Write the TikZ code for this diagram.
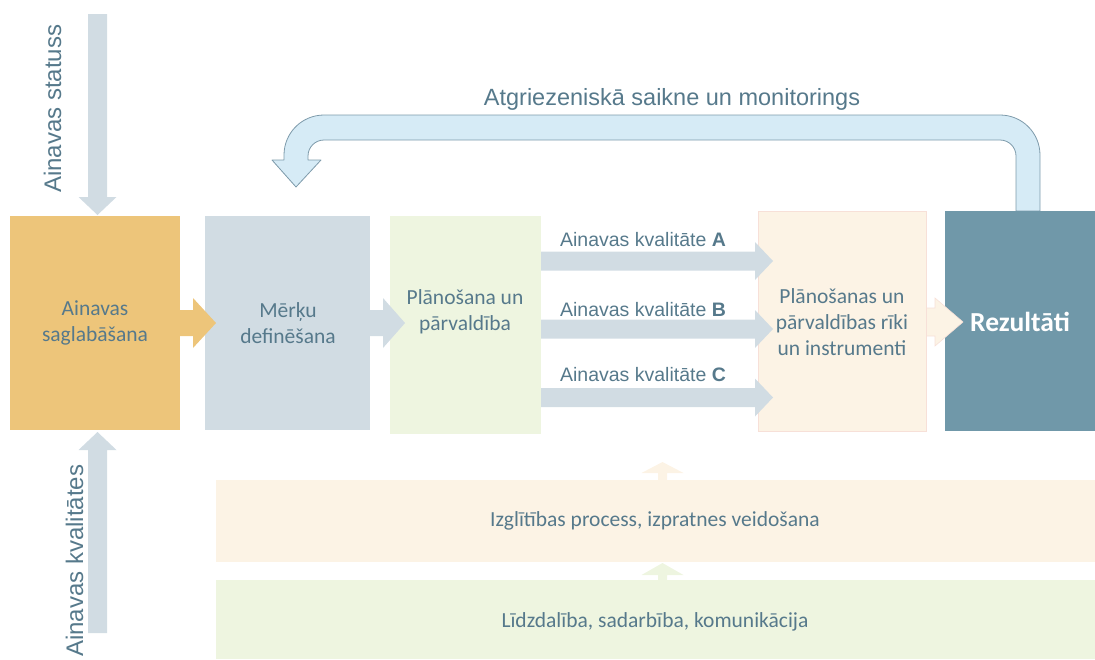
\documentclass[tikz,border=0pt]{standalone}
\usepackage{fontspec}
\setmainfont{Carlito}
\newfontfamily\arialf{Liberation Sans}
\usetikzlibrary{calc}
\definecolor{orangeB}{HTML}{EDC57A}
\definecolor{grayB}{HTML}{D1DCE3}
\definecolor{greenB}{HTML}{EEF5E0}
\definecolor{creamB}{HTML}{FCF3E5}
\definecolor{creamL}{HTML}{F7E0D8}
\definecolor{tealB}{HTML}{7098A9}
\definecolor{txt}{HTML}{56798B}
\definecolor{fbfill}{HTML}{D6EBF6}
\definecolor{fbline}{HTML}{7E9BAB}
\newcommand\blockR[7]{%
 \path[#1] (#2,{#5-#6}) -- (#3,{#5-#6}) -- (#3,{#5-#7}) -- (#4,#5) -- (#3,{#5+#7}) -- (#3,{#5+#6}) -- (#2,{#5+#6}) -- cycle;}
\newcommand\blockV[7]{%
 \path[#1] ({#2-#3},#5) -- ({#2-#3},#6) -- ({#2-#4},#6) -- (#2,#7) -- ({#2+#4},#6) -- ({#2+#3},#6) -- ({#2+#3},#5) -- cycle;}
\begin{document}
\begin{tikzpicture}[x=1pt,y=-1pt,
  box/.style={anchor=north west, inner sep=0pt, outer sep=0pt},
  lbl/.style={text=txt, align=center, inner sep=0pt, font=\fontsize{21.5}{26}\selectfont},
  qlbl/.style={text=txt, anchor=base, inner sep=0pt, font=\arialf\fontsize{19.5}{24}\selectfont},
  vlbl/.style={text=txt, anchor=base west, rotate=90, inner sep=0pt, font=\arialf\fontsize{24}{28}\selectfont},
  grayarrow/.style={fill=grayB},
  orangearrow/.style={fill=orangeB},
  creamarrow/.style={fill=creamB, draw=creamL, line width=0.6pt},
  fbarrow/.style={fill=fbfill, draw=fbline, line width=0.8pt, line join=round}]
\useasboundingbox (0,0) rectangle (1095,659);

% feedback arrow
\path[fbarrow] (1016,211) -- (1016,156) arc[start angle=0, end angle=-90, radius=16]
  -- (324,140) arc[start angle=-90, end angle=-180, radius=16]
  -- (308,160) -- (321,160) -- (296,187) -- (272,160) -- (284,160) -- (284,155)
  arc[start angle=180, end angle=270, radius=40]
  -- (1000,115) arc[start angle=270, end angle=360, radius=40]
  -- (1040,211) -- cycle;
\node[text=txt, anchor=base, inner sep=0pt, font=\arialf\fontsize{23.5}{28}\selectfont] (fbt) at (672,105) {Atgriezeniskā saikne un monitorings};

% boxes
\node[box, fill=orangeB, minimum width=170pt, minimum height=214pt] (b1) at (10,216) {};
\node[box, fill=grayB, minimum width=165pt, minimum height=214pt] (b2) at (205,216) {};
\node[box, fill=greenB, minimum width=151pt, minimum height=218pt] (b3) at (390,216) {};
\node[box, fill=creamB, draw=creamL, line width=0.5pt, minimum width=168pt, minimum height=220pt] (b4) at (758,211) {};
\node[box, fill=tealB, minimum width=150pt, minimum height=220pt] (b5) at (945,211) {};
\node[box, fill=creamB, minimum width=879pt, minimum height=82pt] (bar1) at (216,480) {};
\node[box, fill=greenB, minimum width=879pt, minimum height=79pt] (bar2) at (216,580) {};

% texts in boxes
\node[lbl] (t1) at (95,323) {Ainavas\\saglabāšana};
\node[lbl] (t2) at (288,323) {Mērķu\\definēšana};
\node[lbl] (t3) at (465,312) {Plānošana un\\pārvaldība};
\node[lbl] (t4) at (842,322) {Plānošanas un\\pārvaldības rīki\\un instrumenti};
\node[text=white, inner sep=0pt, font=\bfseries\fontsize{27.5}{32}\selectfont] (t5) at (1020,322) {Rezultāti};
\node[lbl] (tb1) at (655,521) {Izglītības process, izpratnes veidošana};
\node[lbl] (tb2) at (655,622) {Līdzdalība, sadarbība, komunikācija};

% horizontal block arrows
\blockR{orangearrow}{180}{193}{216}{323}{13}{25}
\blockR{grayarrow}{370}{383}{405}{323}{13}{25}
\blockR{grayarrow}{541}{755}{773}{261}{9.5}{19}
\blockR{grayarrow}{541}{755}{773}{329}{9.5}{19}
\blockR{grayarrow}{541}{755}{773}{397.5}{9.5}{19}
\blockR{creamarrow}{926.5}{935}{963}{322}{14}{24}

% quality labels
\node[qlbl] (qa) at (643,246) {Ainavas kvalitāte \textbf{A}};
\node[qlbl] (qb) at (643,316.5) {Ainavas kvalitāte \textbf{B}};
\node[qlbl] (qc) at (643,381.5) {Ainavas kvalitāte \textbf{C}};

% vertical block arrows
\blockV{grayarrow}{97.5}{9.5}{19}{14}{197}{215}
\blockV{grayarrow}{97.5}{9.5}{19}{633}{450}{432}
\node[vlbl] (vs) at (61,193) {Ainavas statuss};
\node[vlbl] (vk) at (83,657) {Ainavas kvalitātes};

% small upward arrows
\blockV{fill=creamB}{662.5}{4.5}{21}{480}{473}{462}
\blockV{fill=greenB}{662.5}{4.5}{21}{580}{575}{563}
\end{tikzpicture}
\end{document}
